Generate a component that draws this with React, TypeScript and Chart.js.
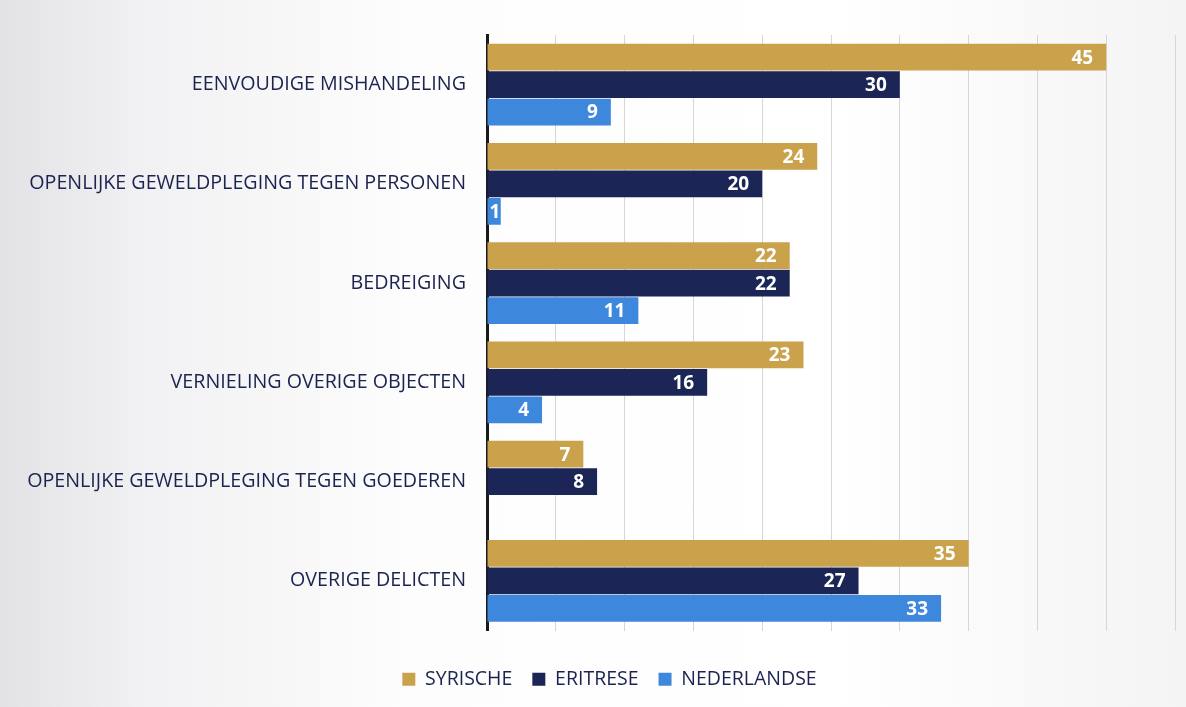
import React, { useEffect, useRef } from "react";
import { Chart, registerables } from "chart.js";

Chart.register(...registerables);

const categories = [
  "EENVOUDIGE MISHANDELING",
  "OPENLIJKE GEWELDPLEGING TEGEN PERSONEN",
  "BEDREIGING",
  "VERNIELING OVERIGE OBJECTEN",
  "OPENLIJKE GEWELDPLEGING TEGEN GOEDEREN",
  "OVERIGE DELICTEN",
];
const seriesNames = ["SYRISCHE", "ERITRESE", "NEDERLANDSE"];
const syrische = [45, 24, 22, 23, 7, 35];
const eritrese = [30, 20, 22, 16, 8, 27];
const nederlandse = [9, 1, 11, 4, null, 33];
const seriesColors = ["#c9a24b", "#1b2556", "#3d87dc"];

const FONT = "'Open Sans', 'DejaVu Sans', sans-serif";

const valueLabels = {
  id: "valueLabels",
  afterDatasetsDraw(chart: any) {
    const ctx = chart.ctx;
    ctx.save();
    ctx.font = `bold 19px ${FONT}`;
    ctx.fillStyle = "#ffffff";
    ctx.textBaseline = "middle";
    ctx.textAlign = "right";
    chart.data.datasets.forEach((ds: any, i: number) => {
      const meta = chart.getDatasetMeta(i);
      meta.data.forEach((bar: any, j: number) => {
        const v = ds.data[j];
        if (v === null || v === undefined) return;
        const text = String(v);
        const w = ctx.measureText(text).width;
        const x = Math.max(bar.x - 13, bar.base + w + 2);
        ctx.fillText(text, x, bar.y + 1);
      });
    });
    ctx.restore();
  },
};

const legendShift = {
  id: "legendShift",
  afterLayout(chart: any) {
    const lg = chart.legend;
    if (lg) {
      lg.left += 22;
      lg.right += 22;
    }
  },
};

export default function App() {
  const ref = useRef<HTMLCanvasElement>(null);
  useEffect(() => {
    if (!ref.current) return;
    const chart = new Chart(ref.current, {
      type: "bar",
      data: {
        labels: categories,
        datasets: [
          { label: seriesNames[0], data: syrische, backgroundColor: seriesColors[0] },
          { label: seriesNames[1], data: eritrese, backgroundColor: seriesColors[1] },
          { label: seriesNames[2], data: nederlandse as any, backgroundColor: seriesColors[2] },
        ],
      },
      options: {
        indexAxis: "y",
        animation: false,
        responsive: true,
        maintainAspectRatio: false,
        layout: { padding: { left: 0, right: 11, top: 35, bottom: 8 } },
        datasets: {
          bar: { categoryPercentage: 0.83, barPercentage: 0.97 },
        },
        scales: {
          x: {
            min: 0,
            max: 50,
            ticks: { display: false, stepSize: 5 },
            grid: { color: "#d6d6d6", lineWidth: 1, drawTicks: false },
            border: { display: false },
            afterFit(scale: any) {
              scale.height = 19;
            },
          },
          y: {
            grid: { display: false, drawTicks: false },
            border: { display: true, color: "#1a1a1a", width: 3 },
            ticks: {
              color: "#1b2350",
              font: { family: FONT, size: 19.7 },
              padding: 21,
            },
            afterFit(scale: any) {
              scale.width = 487;
            },
          },
        },
        plugins: {
          legend: {
            position: "bottom",
            labels: {
              color: "#1b2350",
              font: { family: FONT, size: 19.5 },
              boxWidth: 13,
              boxHeight: 13,
              padding: 20,
            },
          },
          tooltip: { enabled: false },
        },
      },
      plugins: [valueLabels, legendShift],
    });
    return () => chart.destroy();
  }, []);
  return (
    <div
      style={{
        position: "fixed",
        left: 0,
        top: 0,
        width: 1186,
        height: 707,
        background:
          "linear-gradient(to right, #e3e3e6 0%, #f1f1f3 12%, #fdfdfd 35%, #ffffff 70%, #f4f4f5 100%)",
      }}
    >
      <canvas ref={ref} />
    </div>
  );
}
